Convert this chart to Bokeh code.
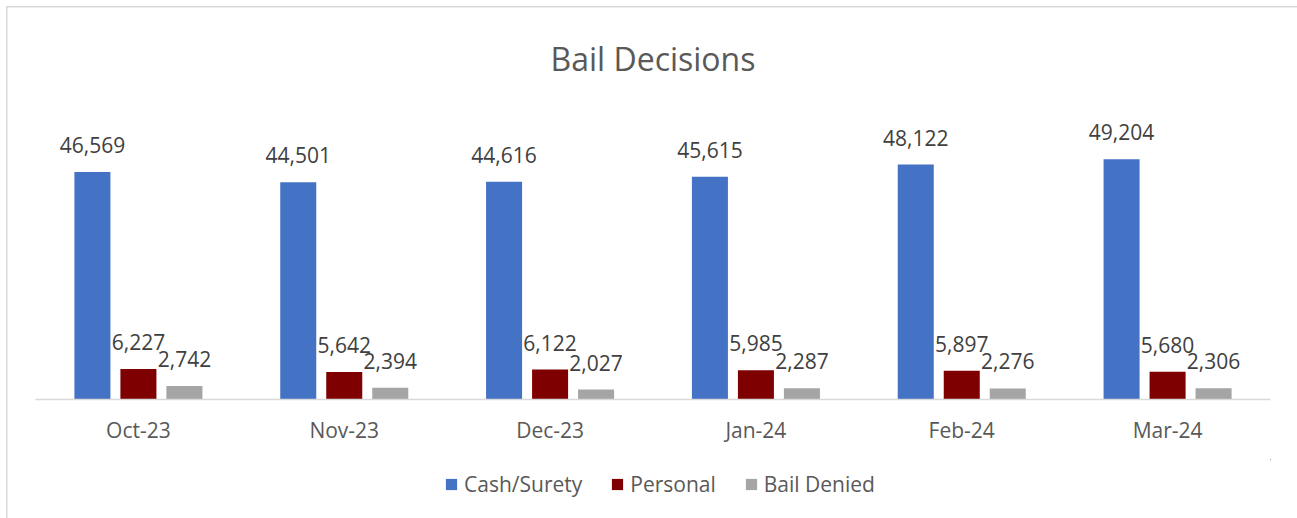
from bokeh.plotting import figure
from bokeh.models import ColumnDataSource, Legend, LegendItem, FactorRange
from bokeh.layouts import column
from bokeh.transform import dodge
from bokeh.core.properties import value
from bokeh.embed import file_html
from bokeh.resources import INLINE

months = ["Oct-23", "Nov-23", "Dec-23", "Jan-24", "Feb-24", "Mar-24"]
cash_surety = [46569, 44501, 44616, 45615, 48122, 49204]
personal = [6227, 5642, 6122, 5985, 5897, 5680]
bail_denied = [2742, 2394, 2027, 2287, 2276, 2306]
series_names = ["Cash/Surety", "Personal", "Bail Denied"]
colors = ["#4472C4", "#7F0000", "#A5A5A5"]

FONT = "Open Sans"

src = ColumnDataSource(dict(
    month=months,
    cash=cash_surety, personal=personal, denied=bail_denied,
    cash_lbl=[f"{v:,}" for v in cash_surety],
    personal_lbl=[f"{v:,}" for v in personal],
    denied_lbl=[f"{v:,}" for v in bail_denied],
))

p = figure(x_range=FactorRange(*months, range_padding=0), y_range=(0, 60000),
           frame_width=1235, frame_height=293, output_backend="svg", toolbar_location=None,
           title="Bail Decisions",
           min_border_left=35, min_border_right=27, min_border_top=106, min_border_bottom=60)
p.border_fill_color = None
p.styles = {"box-shadow": "inset 6px 6px 0 0 #FFFFFF, inset 7.5px 7.5px 0 0 #D9D9D9",
            "background-color": "#FFFFFF"}

p.title.align = "center"
p.title.text_font = FONT
p.title.text_font_size = "32px"
p.title.text_font_style = "normal"
p.title.text_color = "#595959"
p.title.standoff = 53

p.outline_line_color = None
p.grid.visible = False
p.yaxis.visible = False
p.xaxis.axis_line_color = "#D9D9D9"
p.xaxis.axis_line_width = 1.5
p.xaxis.major_tick_line_color = None
p.xaxis.minor_tick_line_color = None
p.xaxis.major_label_text_font = FONT
p.xaxis.major_label_text_font_size = "21px"
p.xaxis.major_label_text_color = "#595959"
p.xaxis.major_label_standoff = 10

offsets = [-0.2235, 0.0, 0.2235]
fields = ["cash", "personal", "denied"]
for off, f, c in zip(offsets, fields, colors):
    p.vbar(x=dodge("month", off, range=p.x_range), top=f, width=0.175,
           source=src, fill_color=c, line_color=None)
    p.text(x=dodge("month", off, range=p.x_range), y=f, text=f + "_lbl", source=src,
           text_align="center", text_baseline="alphabetic", y_offset=-27,
           text_font=value(FONT), text_font_size="21px", text_color="#404040")

# legend strip below the chart
lf = figure(width=1297, height=59, x_range=(0, 1), y_range=(0, 1),
            output_backend="svg", toolbar_location=None,
            min_border_left=0, min_border_right=0, min_border_top=0, min_border_bottom=0)
lf.border_fill_color = None
lf.background_fill_color = None
lf.outline_line_color = None
lf.grid.visible = False
lf.axis.visible = False
lf.styles = {"box-shadow": "inset 6px 0 0 0 #FFFFFF, inset 7.5px 0 0 0 #D9D9D9",
             "background-color": "#FFFFFF"}

# zero-height proxy renderers that only carry the legend swatches
legend_renderers = [lf.vbar(x=f, top=f, bottom=f, width=0, source=src, fill_color=c, line_color=None)
                    for f, c in zip(fields, colors)]

legend = Legend(items=[LegendItem(label=n, renderers=[r]) for n, r in zip(series_names, legend_renderers)],
                orientation="horizontal", location=(409, 20),
                border_line_color=None, background_fill_alpha=0,
                glyph_width=14, glyph_height=14, label_standoff=6, spacing=28,
                padding=0, margin=0,
                label_text_font=FONT, label_text_font_size="21px", label_text_color="#595959")
lf.add_layout(legend, "center")

layout = column(p, lf, spacing=0)
open("out.html", "w").write(file_html(layout, INLINE))
